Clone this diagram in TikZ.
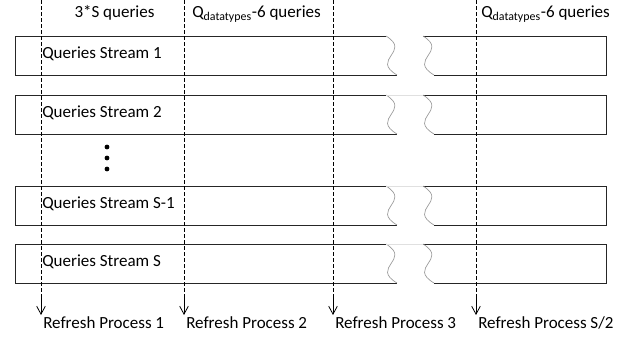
\documentclass[tikz,border=0pt]{standalone}
\usepackage{fontspec}
\setmainfont{Carlito}
\usepackage{tikz}
\usetikzlibrary{calc,positioning,arrows.meta}
\definecolor{wavegrey}{gray}{0.6}

\begin{document}
\begin{tikzpicture}[x=0.75pt,y=-0.75pt,font=\fontsize{12.75}{15}\selectfont]

\tikzset{streamedge/.style={draw=black!85,line width=0.75pt},
waveedge/.style={draw=wavegrey,line width=0.5pt},
gapedge/.style={draw=black!12,line width=0.5pt},
timeline/.style={line width=0.6pt,dash pattern=on 3pt off 1.5pt},
timearrow/.style={line width=0.6pt,-{Straight Barb[length=6pt,width=6.5pt]}},
dotnode/.style={fill=black,shape=circle,inner sep=0pt,minimum size=3.6pt},
textnode/.style={inner sep=0pt,anchor=base west}}

\useasboundingbox (0,0) rectangle (631,339);

% Query streams (broken bars)
\foreach \t/\s in {36/1,95/2,186/S-1,244/S} {
  \draw[streamedge] (386,\t) -- (15,\t) -- (15,{\t+39}) -- (397,{\t+39});
  \draw[streamedge] (423,\t) -- (606,\t) -- (606,{\t+39}) -- (434,{\t+39});
  \draw[waveedge] (386,\t) .. controls (412,{\t+16}) and (370,{\t+23}) .. (397,{\t+39});
  \draw[waveedge] (423,\t) .. controls (449,{\t+16}) and (407,{\t+23}) .. (434,{\t+39});
  \node[textnode] (stream\s) at (42,{\t+22}) {Queries Stream \s};
}
\foreach \t in {95,186,244} \draw[gapedge] (386,\t) -- (423,\t); % faint top of the gap

% Dots
\foreach \y/\n in {147/1,158/2,169/3} \node[dotnode] (dot\n) at (107,\y) {};

% Refresh processes
\foreach \x/\n/\p in {41/1/1,184/2/2,333/3/3,476/4/{S/2}} {
  \coordinate (top\n) at (\x,0);
  \coordinate (bend\n) at (\x,296);
  \coordinate (tip\n) at (\x,315);
  \draw[timeline] (top\n) -- (bend\n);
  \draw[timearrow] (bend\n) -- (tip\n);
  \node[textnode] (refresh\n) at ($(tip\n)+(2,13)$) {Refresh Process \p};
}

% Query counts
\node[textnode,anchor=base] (count1) at (114.5,17.5) {3*S queries};
\node[textnode] (count2) at (192,17.5) {Q\textsubscript{datatypes}-6 queries};
\node[textnode] (count3) at (481,17.5) {Q\textsubscript{datatypes}-6 queries};

\end{tikzpicture}
\end{document}
